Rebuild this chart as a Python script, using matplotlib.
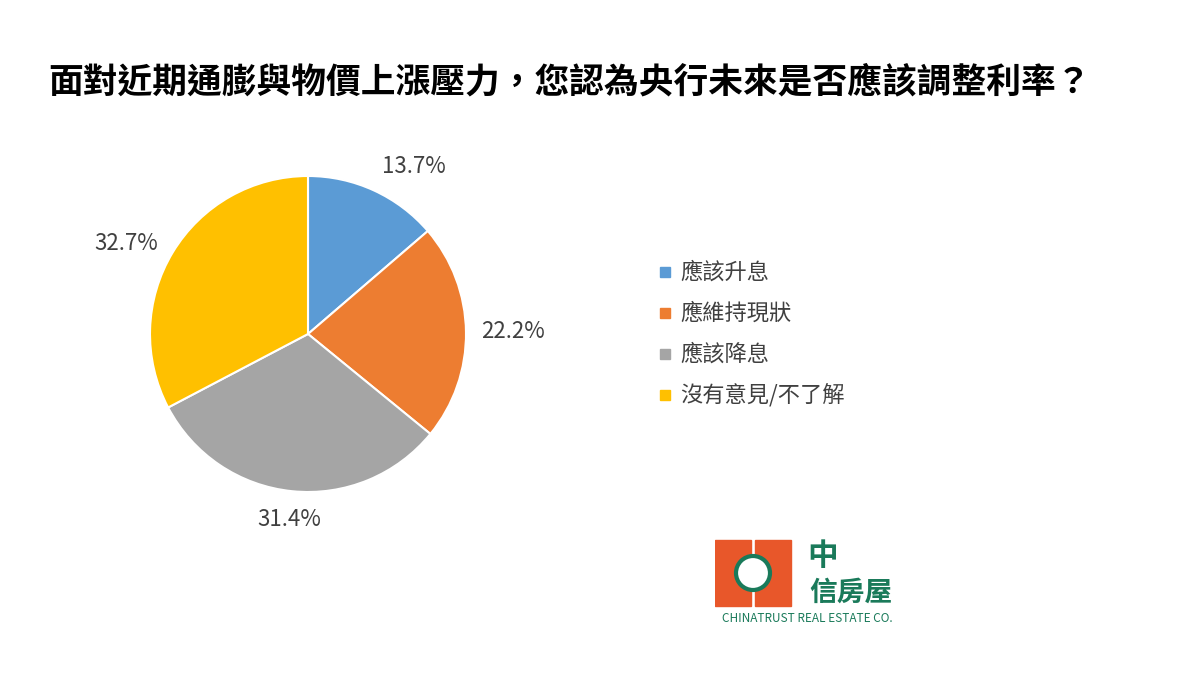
import matplotlib
matplotlib.use("Agg")
import matplotlib.pyplot as plt
from matplotlib.patches import Rectangle, Circle

plt.rcParams["font.family"] = ["Noto Sans CJK TC", "DejaVu Sans"]

labels = ["應該升息", "應維持現狀", "應該降息", "沒有意見/不了解"]
values = [13.7, 22.2, 31.4, 32.7]
colors = ["#5B9BD5", "#ED7D31", "#A5A5A5", "#FFC000"]

fig = plt.figure(figsize=(12, 6.75), dpi=100)
fig.text(0.04, 0.878, "面對近期通膨與物價上漲壓力，您認為央行未來是否應該調整利率？",
         fontsize=25, fontweight="bold", va="center", ha="left")

# pie: center (308, 334) px, radius 158 px; pie limits are +-1.25 radius
r = 158 * 1.25
ax = fig.add_axes([(308 - r) / 1200, 1 - (334 + r) / 675, 2 * r / 1200, 2 * r / 675])
wedges, _, autotexts = ax.pie(values, colors=colors, startangle=90, counterclock=False,
                              autopct="%.1f%%", pctdistance=1.18,
                              wedgeprops=dict(edgecolor="white", linewidth=1.5),
                              textprops=dict(fontsize=16, color="#404040"))
ax.set_aspect("equal")
# nudge labels toward where the original puts them
for t, (dx, dy) in zip(autotexts, [(0.18, -0.01), (0.12, 0.0), (0.0, 0.0), (-0.14, -0.04)]):
    px, py = t.get_position()
    t.set_position((px + dx, py + dy))

for i, (lab, c) in enumerate(zip(labels, colors)):
    y = 1 - (272 + i * 41) / 675
    fig.patches.append(Rectangle((660 / 1200, y - 0.008), 0.0085, 0.015, color=c,
                                 transform=fig.transFigure))
    fig.text(680 / 1200, y, lab, fontsize=16, color="#404040", va="center")

# logo
lg = fig.add_axes([715 / 1200, 1 - 628 / 675, 190 / 1200, 90 / 675])
lg.set_xlim(0, 190); lg.set_ylim(90, 0); lg.axis("off")
orange, green = "#E8572A", "#1A7A5A"
lg.add_patch(Rectangle((0, 2), 36, 66, color=orange))
lg.add_patch(Rectangle((40, 2), 36, 66, color=orange))
lg.add_patch(Circle((38, 35), 17, facecolor="white", edgecolor=green, lw=3))
lg.text(108, 18, "中", fontsize=22, color=green, ha="center", va="center", fontweight="bold")
lg.text(136, 55, "信房屋", fontsize=20, color=green, ha="center", va="center", fontweight="bold")
lg.text(92, 80, "CHINATRUST REAL ESTATE CO.", fontsize=8.5, color=green, ha="center", va="center")

fig.savefig("out.png", dpi=100)
